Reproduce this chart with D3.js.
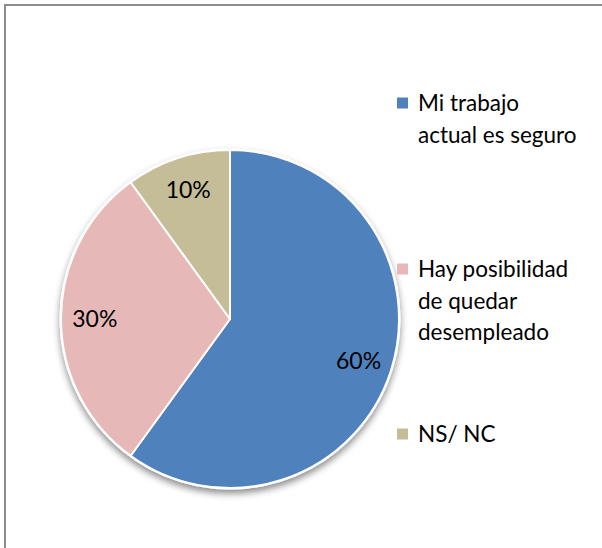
<!DOCTYPE html>
<html>
<head>
	<meta charset="utf-8">
	<script src="https://d3js.org/d3.v7.min.js"></script>
	<title>Pie</title>
	<style>
		body { margin: 0; background: #fff; }
		text { font-family: Lato, "Open Sans", sans-serif; fill: #000; }
	</style>
</head>
<body>
	<div id="chart"></div>

	<script type="text/javascript">

		// chart data
		var categories = ["Mi trabajo actual es seguro", "Hay posibilidad de quedar desempleado", "NS/ NC"];
		var values = [60, 30, 10];
		var legendLines = [["Mi trabajo", "actual es seguro"], ["Hay posibilidad", "de quedar", "desempleado"], ["NS/ NC"]];
		var colors = ["#4f81bd", "#e6b9b8", "#c4bd97"];

		var width = 602, height = 548;
		var cx = 230, cy = 319, radius = 169;

		var svg = d3.select("#chart").append("svg")
			.attr("width", width)
			.attr("height", height);

		var defs = svg.append("defs");
		var shadow = defs.append("filter")
			.attr("id", "shadow")
			.attr("x", "-20%").attr("y", "-20%")
			.attr("width", "140%").attr("height", "140%");
		shadow.append("feDropShadow")
			.attr("dx", 0).attr("dy", 4)
			.attr("stdDeviation", 3.5)
			.attr("flood-color", "#000")
			.attr("flood-opacity", 0.45);

		// outer frame (runs off the right and bottom edges)
		svg.append("rect")
			.attr("x", 5).attr("y", 5)
			.attr("width", 620).attr("height", 600)
			.attr("fill", "none")
			.attr("stroke", "#8c8c8c")
			.attr("stroke-width", 2);

		var pie = d3.pie().sort(null).value(function(d){ return d; });
		var arcs = pie(values);

		var arc = d3.arc().innerRadius(0).outerRadius(radius);
		var labelArc = d3.arc().innerRadius(radius * 0.8).outerRadius(radius * 0.8);

		var g = svg.append("g")
			.attr("transform", "translate(" + cx + "," + cy + ")");

		// white backing disc carries the shadow
		g.append("circle")
			.attr("r", radius + 1.5)
			.attr("fill", "#fff")
			.attr("filter", "url(#shadow)");

		g.selectAll(".slice")
			.data(arcs).enter().append("path")
			.attr("class", "slice")
			.attr("d", arc)
			.attr("fill", function(d, i){ return colors[i]; })
			.attr("stroke", "#fff")
			.attr("stroke-width", 2)
			.attr("stroke-linejoin", "round");

		var total = d3.sum(values);
		g.selectAll(".lbl")
			.data(arcs).enter().append("text")
			.attr("class", "lbl")
			.attr("transform", function(d){ return "translate(" + labelArc.centroid(d) + ")"; })
			.attr("text-anchor", "middle")
			.attr("dy", "0.35em")
			.style("font-size", "23px")
			.text(function(d){ return Math.round(d.value / total * 100) + "%"; });

		// legend
		var legendY = [103, 269, 434];
		var legend = svg.selectAll(".leg")
			.data(categories).enter().append("g")
			.attr("class", "leg")
			.attr("transform", function(d, i){ return "translate(397," + legendY[i] + ")"; });

		legend.append("rect")
			.attr("x", 0).attr("y", -5.5)
			.attr("width", 11).attr("height", 11)
			.attr("fill", function(d, i){ return colors[i]; });

		legend.append("text")
			.attr("x", 21)
			.attr("y", 8)
			.style("font-size", "22.5px")
			.selectAll("tspan")
			.data(function(d, i){ return legendLines[i]; })
			.enter().append("tspan")
			.attr("x", 21)
			.attr("dy", function(d, j){ return j === 0 ? 0 : 31.5; })
			.text(function(d){ return d; });

	</script>
</body>
</html>
